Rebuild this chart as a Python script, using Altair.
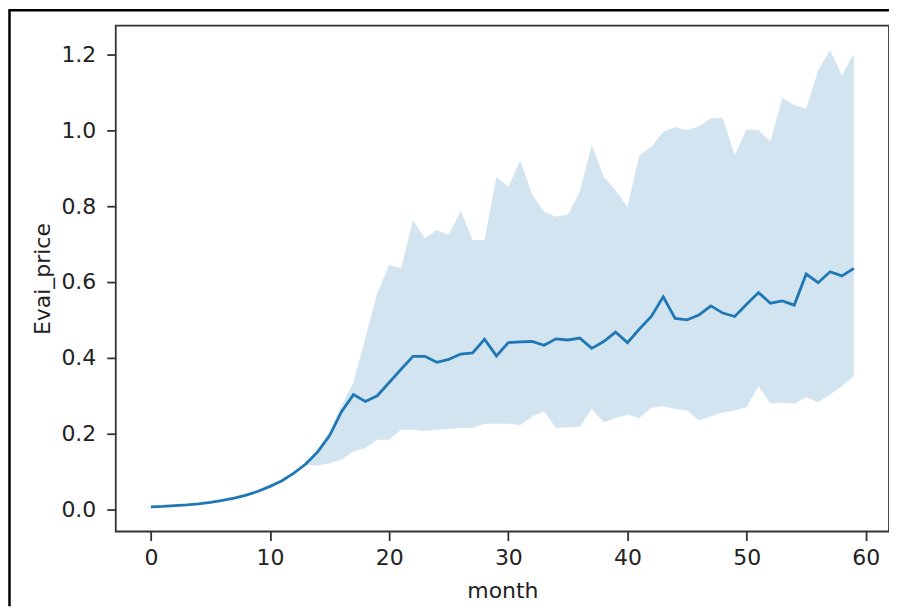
import altair as alt
import pandas as pd

months = list(range(60))

mean_price = [
    0.007, 0.008, 0.010, 0.012, 0.015, 0.019, 0.024, 0.030, 0.038, 0.048,
    0.061, 0.076, 0.096, 0.120, 0.152, 0.195, 0.258, 0.303, 0.285, 0.300,
    0.335, 0.370, 0.404, 0.404, 0.388, 0.396, 0.410, 0.413, 0.449, 0.405,
    0.440, 0.442, 0.443, 0.433, 0.450, 0.447, 0.452, 0.425, 0.443, 0.468,
    0.440, 0.476, 0.509, 0.561, 0.504, 0.500, 0.513, 0.537, 0.518, 0.509,
    0.541, 0.572, 0.544, 0.550, 0.539, 0.621, 0.598, 0.627, 0.616, 0.636,
]

upper_price = [
    0.007, 0.008, 0.010, 0.012, 0.015, 0.019, 0.024, 0.030, 0.038, 0.048,
    0.061, 0.076, 0.096, 0.125, 0.160, 0.205, 0.275, 0.335, 0.452, 0.570,
    0.645, 0.636, 0.763, 0.715, 0.737, 0.724, 0.788, 0.711, 0.711, 0.877,
    0.851, 0.921, 0.830, 0.785, 0.772, 0.778, 0.838, 0.961, 0.877, 0.842,
    0.798, 0.934, 0.956, 0.996, 1.009, 1.000, 1.011, 1.032, 1.033, 0.934,
    1.003, 1.000, 0.971, 1.086, 1.066, 1.057, 1.158, 1.212, 1.145, 1.202,
]

lower_price = [
    0.007, 0.008, 0.010, 0.012, 0.015, 0.019, 0.024, 0.030, 0.038, 0.048,
    0.061, 0.076, 0.096, 0.118, 0.116, 0.122, 0.132, 0.153, 0.162, 0.184,
    0.184, 0.210, 0.210, 0.207, 0.210, 0.212, 0.215, 0.215, 0.226, 0.226,
    0.226, 0.223, 0.245, 0.259, 0.215, 0.217, 0.218, 0.265, 0.230, 0.241,
    0.250, 0.241, 0.268, 0.272, 0.265, 0.261, 0.235, 0.246, 0.256, 0.261,
    0.270, 0.325, 0.279, 0.282, 0.279, 0.296, 0.283, 0.303, 0.325, 0.353,
]

x_ticks = [0, 10, 20, 30, 40, 50, 60]
y_ticks = [0.0, 0.2, 0.4, 0.6, 0.8, 1.0, 1.2]

df = pd.DataFrame({
    "month": months,
    "Evai_price": mean_price,
    "upper": upper_price,
    "lower": lower_price,
})

FONT = "DejaVu Sans"
FS = 22
BLUE = "#1f77b4"

x_scale = alt.Scale(domain=[-2.95, 61.95], nice=False, zero=False)
y_scale = alt.Scale(domain=[-0.058, 1.276], nice=False, zero=False)

x_axis = alt.Axis(
    values=x_ticks, title="month", grid=False, domain=False,
    tickSize=9, tickWidth=1.8, tickColor="#333",
    labelFont=FONT, labelFontSize=FS, labelColor="#222", labelPadding=7,
    titleFont=FONT, titleFontSize=FS, titleColor="#222",
    titleFontWeight="normal", titlePadding=12,
)
y_axis = alt.Axis(
    values=y_ticks, format=".1f", title="Evai_price", grid=False, domain=False,
    tickSize=9, tickWidth=1.8, tickColor="#333",
    labelFont=FONT, labelFontSize=FS, labelColor="#222", labelPadding=11,
    titleFont=FONT, titleFontSize=FS, titleColor="#222",
    titleFontWeight="normal", titlePadding=6,
)

base = alt.Chart(df)

band = base.mark_area(color=BLUE, opacity=0.2).encode(
    x=alt.X("month:Q", scale=x_scale, axis=x_axis),
    y=alt.Y("lower:Q", scale=y_scale, axis=y_axis),
    y2="upper:Q",
)

line = base.mark_line(color=BLUE, strokeWidth=2.8).encode(
    x=alt.X("month:Q", scale=x_scale),
    y=alt.Y("Evai_price:Q", scale=y_scale),
)

frame_df = pd.DataFrame({"k": [0]})
frame_left = alt.Chart(frame_df).mark_rule(color="#000", strokeWidth=2.5).encode(
    x=alt.value(-106.5), y=alt.value(-16), y2=alt.value(582)
)
frame_top = alt.Chart(frame_df).mark_rule(color="#000", strokeWidth=2.5).encode(
    x=alt.value(-107.5), x2=alt.value(775), y=alt.value(-15.5)
)

chart = alt.layer(band, line, frame_left, frame_top).properties(
    width=775,
    height=507,
    background="white",
    autosize=alt.AutoSizeParams(type="none"),
    padding={"left": 108, "top": 17, "right": 0, "bottom": 75},
).configure_view(
    stroke="#333", strokeWidth=1.8
)

chart.save("out.html", embed_options={"renderer": "svg", "actions": False})
